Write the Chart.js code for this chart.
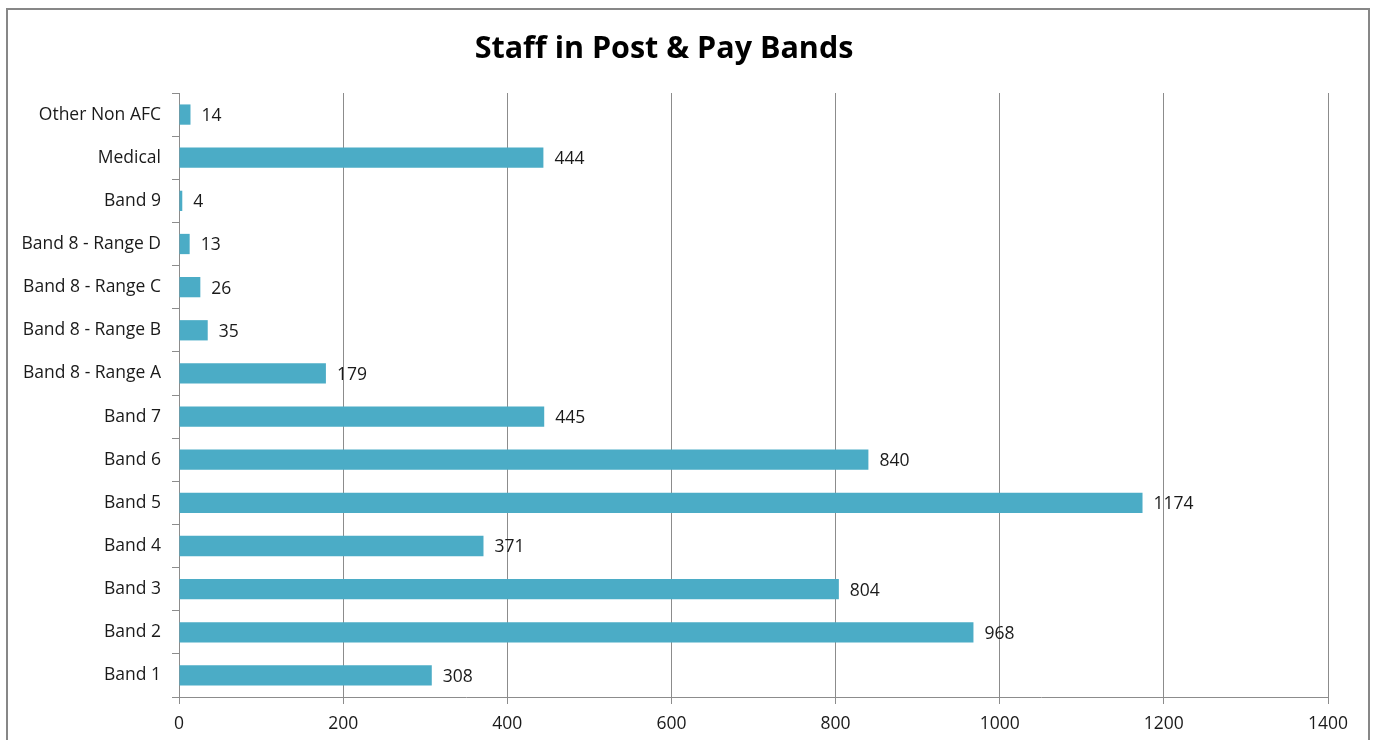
<!DOCTYPE html>
<html>
<head>
<meta charset="utf-8">
<script src="https://cdn.jsdelivr.net/npm/chart.js@4/dist/chart.umd.min.js"></script>
<style>
html,body{margin:0;padding:0;background:#fff;overflow:hidden;}
#wrap{position:absolute;left:0;top:0;width:1373px;height:740px;}
</style>
</head>
<body>
<div id="wrap"><canvas id="c" width="1373" height="740"></canvas></div>
<script>
const categories = ["Other Non AFC","Medical","Band 9","Band 8 - Range D","Band 8 - Range C","Band 8 - Range B","Band 8 - Range A","Band 7","Band 6","Band 5","Band 4","Band 3","Band 2","Band 1"];
const staffValues = [14,444,4,13,26,35,179,445,840,1174,371,804,968,308];
const xTicks = [0,200,400,600,800,1000,1200,1400];
const chartTitle = "Staff in Post & Pay Bands";

const FONT = "'Open Sans', 'Liberation Sans', sans-serif";

const framePlugin = {
  id:'frame',
  beforeDraw(chart){
    const ctx = chart.ctx;
    ctx.save();
    ctx.fillStyle = '#fff';
    ctx.fillRect(0,0,chart.width,chart.height);
    ctx.strokeStyle = '#878787';
    ctx.lineWidth = 2;
    ctx.strokeRect(7,9,1362,800);
    ctx.restore();
  }
};

const labelPlugin = {
  id:'valueLabels',
  afterDatasetsDraw(chart){
    const ctx = chart.ctx;
    const meta = chart.getDatasetMeta(0);
    ctx.save();
    ctx.font = "17.5px " + FONT;
    ctx.fillStyle = '#1a1a1a';
    ctx.textAlign = 'left';
    ctx.textBaseline = 'middle';
    meta.data.forEach((bar,i)=>{
      ctx.fillText(String(chart.data.datasets[0].data[i]), bar.x + 11, bar.y + 1.5);
    });
    ctx.restore();
  }
};

new Chart(document.getElementById('c'), {
  type:'bar',
  data:{
    labels:categories,
    datasets:[{
      data:staffValues,
      backgroundColor:'#4BACC6',
      borderWidth:0,
      barPercentage:0.47,
      categoryPercentage:1.0
    }]
  },
  options:{
    indexAxis:'y',
    responsive:false,
    animation:false,
    devicePixelRatio:1,
    layout:{padding:{left:0,right:45,top:0,bottom:0}},
    plugins:{
      legend:{display:false},
      tooltip:{enabled:false},
      title:{
        display:true,
        text:chartTitle,
        color:'#000',
        font:{family:FONT,size:30.5,weight:'bold'},
        padding:{top:31,bottom:25.4}
      }
    },
    scales:{
      x:{
        type:'linear',
        min:0,max:1400,
        afterBuildTicks(scale){ scale.ticks = xTicks.map(v=>({value:v})); },
        afterFit(scale){ scale.height = 43; },
        grid:{color:'#8c8c8c',lineWidth:1,tickLength:7,drawOnChartArea:true},
        border:{color:'#8c8c8c',width:1},
        ticks:{color:'#1a1a1a',font:{family:FONT,size:17.5},padding:10,maxRotation:0,
          callback:(v)=>String(v)}
      },
      y:{
        afterFit(scale){ scale.width = 179; },
        grid:{color:'#8c8c8c',lineWidth:1,tickLength:7,drawOnChartArea:false,offset:true},
        border:{color:'#8c8c8c',width:1},
        ticks:{color:'#1a1a1a',font:{family:FONT,size:17.5},padding:11,autoSkip:false}
      }
    }
  },
  plugins:[framePlugin,labelPlugin]
});
</script>
</body>
</html>
